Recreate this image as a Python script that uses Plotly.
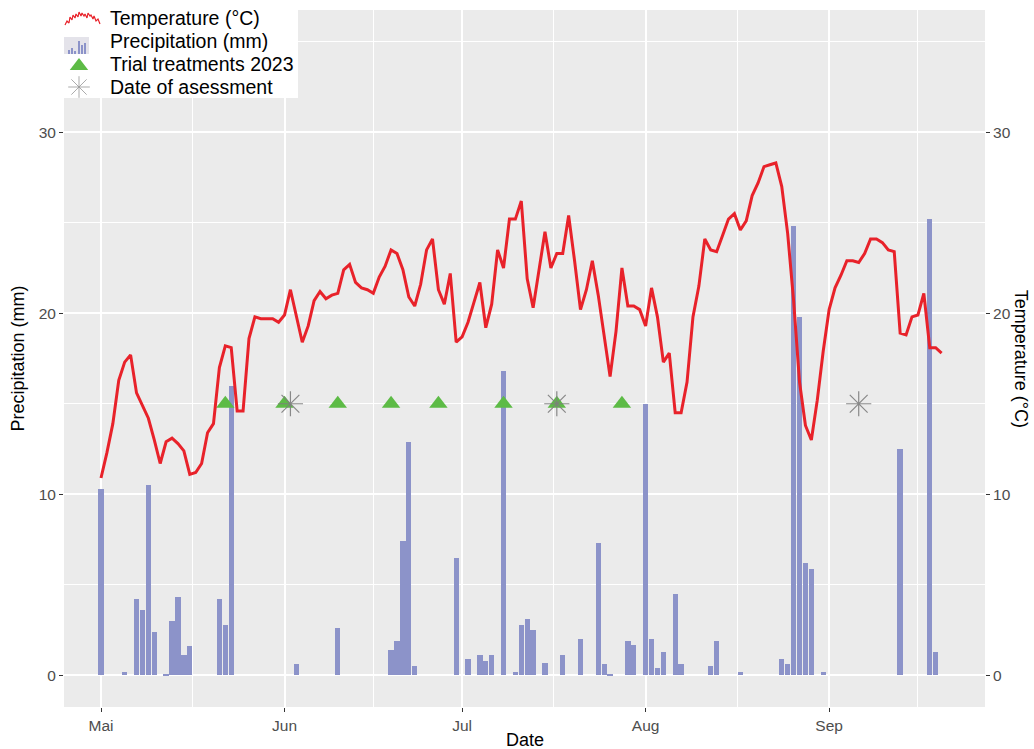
import pandas as pd
import plotly.graph_objects as go

# daily mean temperature, 1 May - 20 Sep 2023
start_date = "2023-05-01"
temperature = [
    10.9, 12.3, 13.9, 16.3, 17.3, 17.7, 15.6, 14.9, 14.2, 13.0,
    11.7, 12.9, 13.1, 12.8, 12.4, 11.1, 11.2, 11.7, 13.4, 13.9,
    17.0, 18.2, 18.1, 14.6, 14.6, 18.6, 19.8, 19.7, 19.7, 19.7,
    19.5, 19.9, 21.3, 19.9, 18.4, 19.3, 20.7, 21.2, 20.8, 21.0,
    21.1, 22.4, 22.7, 21.7, 21.4, 21.3, 21.1, 22.0, 22.6, 23.5,
    23.3, 22.4, 20.9, 20.4, 21.6, 23.5, 24.1, 21.3, 20.5, 22.2,
    18.4, 18.7, 19.5, 20.6, 21.7, 19.2, 20.5, 23.5, 22.5, 25.2,
    25.2, 26.2, 21.9, 20.3, 22.3, 24.5, 22.5, 23.3, 23.3, 25.4,
    22.9, 20.2, 21.3, 22.9, 21.0, 18.7, 16.5, 19.0, 22.5, 20.4,
    20.4, 20.2, 19.3, 21.4, 19.8, 17.3, 17.8, 14.5, 14.5, 16.2,
    19.8, 21.5, 24.1, 23.5, 23.4, 24.3, 25.2, 25.5, 24.6, 25.1,
    26.5, 27.2, 28.1, 28.2, 28.3, 27.0, 24.4, 20.7, 16.2, 13.8,
    13.0, 15.2, 17.9, 20.2, 21.4, 22.1, 22.9, 22.9, 22.8, 23.3,
    24.1, 24.1, 23.9, 23.5, 23.4, 18.9, 18.8, 19.8, 19.9, 21.1,
    18.1, 18.1, 17.8,
]
temp_dates = pd.date_range(start_date, periods=len(temperature), freq="D")

# days with precipitation (mm)
rain_dates = [
    "2023-05-01", "2023-05-05", "2023-05-07", "2023-05-08", "2023-05-09",
    "2023-05-10", "2023-05-12", "2023-05-13", "2023-05-14", "2023-05-15",
    "2023-05-16", "2023-05-21", "2023-05-22", "2023-05-23", "2023-06-03",
    "2023-06-10", "2023-06-19", "2023-06-20", "2023-06-21", "2023-06-22",
    "2023-06-23", "2023-06-30", "2023-07-02", "2023-07-04", "2023-07-05",
    "2023-07-06", "2023-07-08", "2023-07-10", "2023-07-11", "2023-07-12",
    "2023-07-13", "2023-07-15", "2023-07-18", "2023-07-21", "2023-07-24",
    "2023-07-25", "2023-07-26", "2023-07-29", "2023-07-30", "2023-08-01",
    "2023-08-02", "2023-08-03", "2023-08-04", "2023-08-06", "2023-08-07",
    "2023-08-12", "2023-08-13", "2023-08-17", "2023-08-24", "2023-08-25",
    "2023-08-26", "2023-08-27", "2023-08-28", "2023-08-29", "2023-08-31",
    "2023-09-13", "2023-09-18", "2023-09-19",
]
rain_mm = [
    10.3, 0.2, 4.2, 3.6, 10.5,
    2.4, 0.1, 3.0, 4.3, 1.1,
    1.6, 4.2, 2.8, 16.0, 0.6,
    2.6, 1.4, 1.9, 7.4, 12.9,
    0.5, 6.5, 0.9, 1.1, 0.8,
    1.1, 16.8, 0.2, 2.8, 3.1,
    2.5, 0.7, 1.1, 2.0, 7.3,
    0.6, 0.1, 1.9, 1.7, 15.0,
    2.0, 0.4, 1.3, 4.5, 0.6,
    0.5, 1.9, 0.2, 0.9, 0.6,
    24.8, 19.8, 6.2, 5.9, 0.2,
    12.5, 25.2, 1.3,
]

treatment_dates = ["2023-05-22", "2023-06-01", "2023-06-10", "2023-06-19",
                   "2023-06-27", "2023-07-08", "2023-07-17", "2023-07-28"]
assessment_dates = ["2023-06-02", "2023-07-17", "2023-09-06"]
marker_level = 15

month_ticks = ["2023-05-01", "2023-06-01", "2023-07-01", "2023-08-01", "2023-09-01"]
month_labels = ["Mai", "Jun", "Jul", "Aug", "Sep"]
mid_month = ["2023-05-16 12:00", "2023-06-16", "2023-07-16 12:00",
             "2023-08-16 12:00", "2023-09-16"]
y_ticks = [0, 10, 20, 30]

legend_labels = ["Temperature (°C)", "Precipitation (mm)",
                 "Trial treatments 2023", "Date of asessment"]

DAY_MS = 86400000
FONT = "Liberation Sans, Arial, sans-serif"
TICK_GREY = "#4D4D4D"
RED = "#E8222A"
BAR_BLUE = "rgb(140,147,201)"
GREEN = "#5DBB46"
GREY_STAR = "rgba(125,125,125,0.9)"

# plot area in pixels
W, H = 1034, 749
L, R, T, B = 64, 49, 10, 42
PW, PH = W - L - R, H - T - B

fig = go.Figure()

fig.add_trace(go.Bar(
    x=rain_dates, y=rain_mm, name=legend_labels[1],
    width=0.9 * DAY_MS,
    marker=dict(color=BAR_BLUE, line=dict(width=0)),
))

fig.add_trace(go.Scatter(
    x=temp_dates, y=temperature, name=legend_labels[0], mode="lines",
    line=dict(color=RED, width=3), yaxis="y2",
))

fig.add_trace(go.Scatter(
    x=treatment_dates, y=[marker_level] * len(treatment_dates),
    name=legend_labels[2], mode="markers",
    marker=dict(symbol="triangle-up", size=16, color=GREEN),
))

fig.add_trace(go.Scatter(
    x=assessment_dates, y=[marker_level] * len(assessment_dates),
    name=legend_labels[3], mode="markers",
    marker=dict(symbol="asterisk-open", size=21, color=GREY_STAR,
                line=dict(color=GREY_STAR, width=1.2)),
))

# ---- hand-made legend (overlay axes measured in pixels from the panel corner)
leg = dict(xaxis="x3", yaxis="y3", showlegend=False, hoverinfo="skip")
fig.add_trace(go.Scatter(  # white legend box
    x=[0, 234, 234, 0, 0], y=[0, 0, 88, 88, 0], mode="lines",
    fill="toself", fillcolor="white", line=dict(width=0), **leg))
fig.add_trace(go.Scatter(  # little temperature squiggle
    x=[1, 3, 5, 6, 8, 9, 11, 12, 14, 15, 17, 18, 20, 21, 23, 24, 26, 27, 29, 30, 32, 34, 36],
    y=[15, 11, 13, 7, 10, 5, 8, 4, 7, 2, 6, 3, 6, 4, 8, 3, 6, 5, 9, 6, 11, 9, 14],
    mode="lines", line=dict(color=RED, width=1.2), **leg))
fig.add_trace(go.Scatter(  # precipitation key background
    x=[0, 25, 25, 0, 0], y=[27, 27, 44, 44, 27], mode="lines",
    fill="toself", fillcolor="#E4E3EA", line=dict(width=0), **leg))
fig.add_trace(go.Scatter(  # precipitation key bars
    x=[4, 6, 6, 4, 4, None, 7, 9, 9, 7, 7, None, 10, 12, 12, 10, 10, None,
       14, 16, 16, 14, 14, None, 17, 19, 19, 17, 17, None, 20, 22, 22, 20, 20],
    y=[44, 44, 40, 40, 44, None, 44, 44, 38, 38, 44, None, 44, 44, 41, 41, 44, None,
       44, 44, 31, 31, 44, None, 44, 44, 35, 35, 44, None, 44, 44, 33, 33, 44],
    mode="lines", fill="toself", fillcolor=BAR_BLUE, line=dict(width=0), **leg))
fig.add_trace(go.Scatter(
    x=[15], y=[56], mode="markers",
    marker=dict(symbol="triangle-up", size=16, color=GREEN), **leg))
fig.add_trace(go.Scatter(
    x=[15], y=[77], mode="markers",
    marker=dict(symbol="asterisk-open", size=18, color="rgba(150,150,150,0.8)",
                line=dict(color="rgba(150,150,150,0.8)", width=1)), **leg))

legend_text_y = [18, 41, 64, 87]
annotations = [
    dict(text=txt, xref="paper", yref="paper",
         x=(108 - L) / PW, y=1 - (ty - T) / PH,
         xanchor="left", yanchor="middle", showarrow=False,
         font=dict(size=19.5, color="black"))
    for txt, ty in zip(legend_labels, legend_text_y)
]
annotations += [
    dict(text="Date", xref="paper", yref="paper", x=0.5, y=-0.047,
         xanchor="center", yanchor="middle", showarrow=False,
         font=dict(size=18)),
    dict(text="Precipitation (mm)", xref="paper", yref="paper",
         x=-0.05, y=0.5, xanchor="center", yanchor="middle",
         textangle=-90, showarrow=False, font=dict(size=18)),
    dict(text="Temperature (°C)", xref="paper", yref="paper",
         x=1.040, y=0.5, xanchor="center", yanchor="middle",
         textangle=90, showarrow=False, font=dict(size=18)),
]

y_range = [-1.75, 36.75]
axis_common = dict(
    ticks="outside", ticklen=4, tickcolor="#333333",
    tickfont=dict(size=15.5, color=TICK_GREY),
    zeroline=False, showline=False,
)

fig.update_layout(
    width=W, height=H,
    margin=dict(l=L, r=R, t=T, b=B, autoexpand=False),
    paper_bgcolor="white", plot_bgcolor="#EBEBEB",
    font=dict(family=FONT, color="black"),
    bargap=0,
    showlegend=False,
    xaxis=dict(
        type="date",
        range=["2023-04-24 18:00", "2023-09-27 08:00"],
        tickvals=month_ticks, ticktext=month_labels,
        showgrid=True, gridcolor="white", gridwidth=1.6,
        minor=dict(tickvals=mid_month, showgrid=True, gridcolor="white",
                   gridwidth=0.7, ticks=""),
        **axis_common,
    ),
    yaxis=dict(
        range=y_range, tickvals=y_ticks,
        showgrid=True, gridcolor="white", gridwidth=1.6,
        minor=dict(tickvals=[5, 15, 25, 35], showgrid=True,
                   gridcolor="white", gridwidth=0.7, ticks=""),
        **axis_common,
    ),
    yaxis2=dict(
        range=y_range, tickvals=y_ticks, overlaying="y", side="right",
        showgrid=False, **axis_common,
    ),
    xaxis3=dict(range=[0, PW], overlaying="x", visible=False),
    yaxis3=dict(range=[PH, 0], overlaying="y", visible=False),
    annotations=annotations,
)

fig.write_html("out.html", config={"displayModeBar": False},
               post_script="document.body.style.margin='0';")
